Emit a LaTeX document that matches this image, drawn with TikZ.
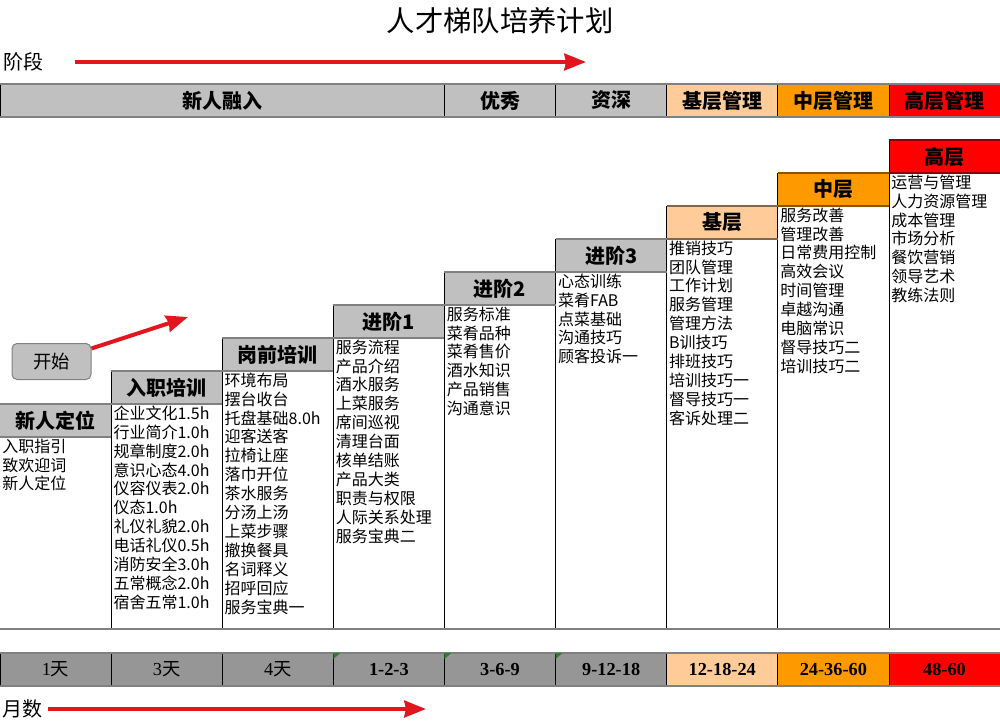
\documentclass[tikz,border=0pt]{standalone}
\usepackage{fontspec}
\setmainfont{Noto Sans CJK SC}
\newfontfamily\cjkfont{Noto Sans CJK SC}
\newfontfamily\numfont{Liberation Serif}
\usetikzlibrary{arrows.meta,positioning}
\definecolor{cellgray}{HTML}{C0C0C0}
\definecolor{bargray}{HTML}{969696}
\definecolor{rulegray}{HTML}{808080}
\definecolor{peach}{HTML}{FFCC99}
\definecolor{amber}{HTML}{FF9900}
\definecolor{topred}{HTML}{FF0000}
\definecolor{arrowred}{HTML}{E2161E}
\definecolor{notegreen}{HTML}{2E7D32}

\begin{document}
\begin{tikzpicture}[x=0.6pt,y=-0.6pt]
\tikzset{cell/.style = {draw=black, line width=0.4pt, outer sep=0pt, inner sep=0pt,
	minimum width=66.67pt, minimum height=19.8pt, font=\fontsize{12}{12}\selectfont\bfseries}}
\tikzset{level/.style = {cell, draw=none, fill=cellgray}}
\tikzset{topics/.style = {align=left, outer sep=0pt, inner xsep=1.5pt, inner ysep=1pt,
	font=\fontsize{9.6}{11.35}\selectfont}}
\tikzset{months/.style = {cell, fill=bargray, font=\numfont\bfseries\fontsize{11}{11}\selectfont}}
\tikzset{rule/.style = {rulegray, line width=1.2pt}}
\tikzset{redarrow/.style = {arrowred, line width=2.4pt, -{Stealth[length=13pt,width=10pt,inset=1pt]}}}
\useasboundingbox (0,0) rectangle (1000,724);

% title and stages
\node (title) at (500,21) {\fontsize{17}{17}\selectfont 人才梯队培养计划};
\node[font=\fontsize{12}{12}\selectfont] (stage) at (24,62) {阶段};
\coordinate (stageend) at (586,62);
\draw[redarrow, shorten <=15pt] (stage) -- (stageend);

\node[cell, fill=cellgray, anchor=north west, minimum width=266.67pt] (p1) at (0,84) {新人融入};
\node[cell, fill=cellgray, right=0pt of p1] (p2) {优秀};
\node[cell, fill=cellgray, right=0pt of p2] (p3) {资深};
\node[cell, fill=peach, right=0pt of p3] (p4) {基层管理};
\node[cell, fill=amber, right=0pt of p4] (p5) {中层管理};
\node[cell, fill=topred, right=0pt of p5] (p6) {高层管理};
\draw[rule] (p1.north west) -- (p6.north east);
\draw[rule] (p1.south west) -- (p6.south east);

% staircase
\node[level, anchor=north west] (h1) at (0,404) {新人定位};
\node[level, above right=0pt and 0pt of h1.north east] (h2) {入职培训};
\node[level, above right=0pt and 0pt of h2.north east] (h3) {岗前培训};
\node[level, above right=0pt and 0pt of h3.north east] (h4) {进阶1};
\node[level, above right=0pt and 0pt of h4.north east] (h5) {进阶2};
\node[level, above right=0pt and 0pt of h5.north east] (h6) {进阶3};
\node[level, fill=peach, above right=0pt and 0pt of h6.north east] (h7) {基层};
\node[level, fill=amber, above right=0pt and 0pt of h7.north east] (h8) {中层};
\node[level, fill=topred, above right=0pt and 0pt of h8.north east] (h9) {高层};

\node[topics, below right=0pt and 0pt of h1.south west] (t1) {入职指引\\致欢迎词\\新人定位};
\node[topics, below right=0pt and 0pt of h2.south west] (t2) {企业文化1.5h\\行业简介1.0h\\规章制度2.0h\\意识心态4.0h\\仪容仪表2.0h\\仪态1.0h\\礼仪礼貌2.0h\\电话礼仪0.5h\\消防安全3.0h\\五常概念2.0h\\宿舍五常1.0h};
\node[topics, below right=0pt and 0pt of h3.south west] (t3) {环境布局\\摆台收台\\托盘基础8.0h\\迎客送客\\拉椅让座\\落巾开位\\茶水服务\\分汤上汤\\上菜步骤\\撤换餐具\\名词释义\\招呼回应\\服务宝典一};
\node[topics, below right=0pt and 0pt of h4.south west] (t4) {服务流程\\产品介绍\\酒水服务\\上菜服务\\席间巡视\\清理台面\\核单结账\\产品大类\\职责与权限\\人际关系处理\\服务宝典二};
\node[topics, below right=0pt and 0pt of h5.south west] (t5) {服务标准\\菜肴品种\\菜肴售价\\酒水知识\\产品销售\\沟通意识};
\node[topics, below right=0pt and 0pt of h6.south west] (t6) {心态训练\\菜肴FAB\\点菜基础\\沟通技巧\\顾客投诉一};
\node[topics, below right=0pt and 0pt of h7.south west] (t7) {推销技巧\\团队管理\\工作计划\\服务管理\\管理方法\\B训技巧\\排班技巧\\培训技巧一\\督导技巧一\\客诉处理二};
\node[topics, below right=0pt and 0pt of h8.south west] (t8) {服务改善\\管理改善\\日常费用控制\\高效会议\\时间管理\\卓越沟通\\电脑常识\\督导技巧二\\培训技巧二};
\node[topics, below right=0pt and 0pt of h9.south west] (t9) {运营与管理\\人力资源管理\\成本管理\\市场分析\\餐饮营销\\领导艺术\\教练法则};

\coordinate (floor) at (0,629);
\foreach \i in {2,...,9}
	\draw[line width=0.4pt] (h\i.north west) -- (h\i.north west |- floor);
\draw[line width=0.4pt] (h9.north east) -- (h9.north east |- floor);
\foreach \i/\c in {1/rulegray,2/rulegray,3/rulegray,4/rulegray,5/rulegray,6/rulegray,7/peach!50!black,8/amber!55!black,9/topred!55!black}{
	\draw[line width=1.2pt,\c] (h\i.north west) -- (h\i.north east);
	\draw[line width=1.2pt,\c] (h\i.south west) -- (h\i.south east);
}
\draw[rule] (floor) -- (floor -| h9.east);

% start
\node[draw=rulegray, fill=cellgray, rounded corners=3pt, line width=0.6pt, minimum width=47.4pt,
	minimum height=21.6pt, font=\fontsize{11}{11}\selectfont] (start) at (51.5,361.5) {开始};
\coordinate (startend) at (188,317);
\draw[redarrow] (start) -- (startend);

% months
\node[months, anchor=north west] (m1) at (0,653) {{\mdseries 1\cjkfont 天}};
\node[months, right=0pt of m1] (m2) {{\mdseries 3\cjkfont 天}};
\node[months, right=0pt of m2] (m3) {{\mdseries 4\cjkfont 天}};
\node[months, right=0pt of m3] (m4) {1-2-3};
\node[months, right=0pt of m4] (m5) {3-6-9};
\node[months, right=0pt of m5] (m6) {9-12-18};
\node[months, fill=peach, right=0pt of m6] (m7) {12-18-24};
\node[months, fill=amber, right=0pt of m7] (m8) {24-36-60};
\node[months, fill=topred, right=0pt of m8] (m9) {48-60};
\draw[rule] (m1.north west) -- (m9.north east);
\draw[rule] (m1.south west) -- (m9.south east);
\foreach \i in {4,5,6}
	\fill[notegreen] (m\i.north west) -- ++(7,0) -- ++(-7,6) -- cycle;

\node[font=\fontsize{12}{12}\selectfont] (month) at (22,709) {月数};
\coordinate (monthend) at (426,709);
\draw[redarrow] (month) -- (monthend);
\end{tikzpicture}
\end{document}
